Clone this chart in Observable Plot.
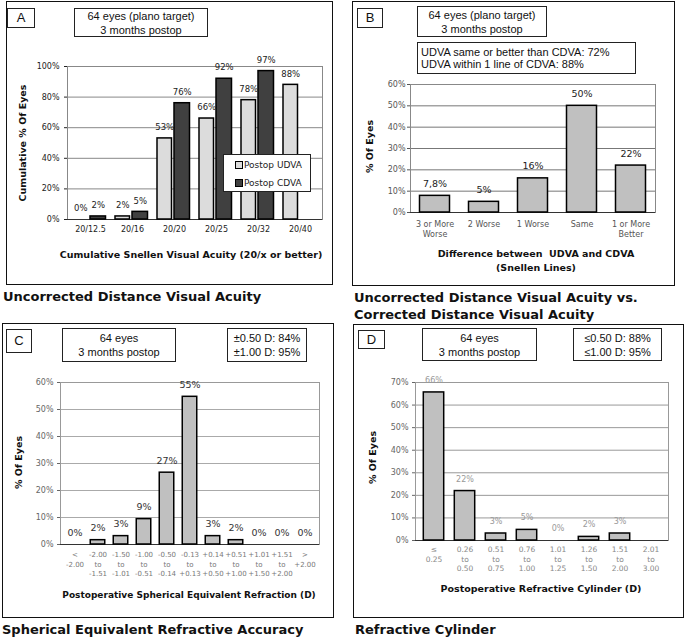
<!DOCTYPE html>
<html><head><meta charset="utf-8">
<script src="https://cdn.jsdelivr.net/npm/d3@7"></script>
<script src="https://cdn.jsdelivr.net/npm/@observablehq/plot@0.6"></script>
<style>
body{margin:0;background:#fff;}
#root{position:relative;width:685px;height:638px;overflow:hidden;font-family:"DejaVu Sans",sans-serif;background:#fff;}
.panel{position:absolute;border:1.5px solid #111;box-sizing:border-box;}
.chart{position:absolute;}
.box{position:absolute;border:1.2px solid #222;background:#fff;font-family:"Liberation Sans",Arial,sans-serif;font-size:11px;line-height:14px;color:#111;box-sizing:border-box;display:flex;flex-direction:column;justify-content:center;}
.title{position:absolute;font-family:"DejaVu Sans",sans-serif;font-weight:bold;font-size:13px;line-height:17px;color:#111;white-space:nowrap;}
.legend{position:absolute;border:1.2px solid #222;background:#fff;box-sizing:border-box;font-family:"DejaVu Sans",sans-serif;font-size:9px;color:#222;}
.legend .item{position:absolute;left:11px;display:flex;align-items:center;white-space:nowrap;}
.legend .sw{width:6px;height:6px;border:1px solid #000;margin-right:1px;}
</style>
</head><body><div id="root"></div>
<script>
// ---- Data ----
const snellenCats = ["20/12.5","20/16","20/20","20/25","20/32","20/40"];
const udvaCum = [0, 2, 53, 66, 78, 88];
const cdvaCum = [2, 5, 76, 92, 97, null];
const aTicks = [0, 20, 40, 60, 80, 100];

const diffCats = ["3 or More\nWorse", "2 Worse", "1 Worse", "Same", "1 or More\nBetter"];
const diffVals = [7.8, 5, 16, 50, 22];
const diffLabels = ["7,8%", "5%", "16%", "50%", "22%"];
const bTicks = [0, 10, 20, 30, 40, 50, 60];

const seCats = ["<\n-2.00", "-2.00\nto\n-1.51", "-1.50\nto\n-1.01", "-1.00\nto\n-0.51", "-0.50\nto\n-0.14", "-0.13\nto\n+0.13", "+0.14\nto\n+0.50", "+0.51\nto\n+1.00", "+1.01\nto\n+1.50", "+1.51\nto\n+2.00", ">\n+2.00"];
const seVals = [0, 1.6, 3.1, 9.4, 26.6, 54.7, 3.1, 1.6, 0, 0, 0];
const seLabels = ["0%", "2%", "3%", "9%", "27%", "55%", "3%", "2%", "0%", "0%", "0%"];
const cTicks = [0, 10, 20, 30, 40, 50, 60];

const cylCats = ["≤\n0.25", "0.26\nto\n0.50", "0.51\nto\n0.75", "0.76\nto\n1.00", "1.01\nto\n1.25", "1.26\nto\n1.50", "1.51\nto\n2.00", "2.01\nto\n3.00"];
const cylVals = [65.6, 21.9, 3.1, 4.7, 0, 1.6, 3.1, 0];
const cylLabels = ["66%", "22%", "3%", "5%", "0%", "2%", "3%", ""];
const dTicks = [0, 10, 20, 30, 40, 50, 60, 70];

const root = document.getElementById("root");
const pct = d => d + "%";

function place(el, left, top) {
  el.classList.add("chart");
  el.style.left = left + "px";
  el.style.top = top + "px";
  root.appendChild(el);
}
function addDiv(cls, left, top, w, h, html, extra) {
  const d = document.createElement("div");
  d.className = cls;
  d.style.left = left + "px"; d.style.top = top + "px";
  if (w != null) d.style.width = w + "px";
  if (h != null) d.style.height = h + "px";
  d.innerHTML = html;
  if (extra) Object.assign(d.style, extra);
  root.appendChild(d);
  return d;
}
const baseStyle = (color, size) => ({fontFamily: "DejaVu Sans, sans-serif", fontSize: size, color, background: "transparent", overflow: "visible"});

// ---- Panel borders ----
addDiv("panel", 6, 1, 327, 284, "");
addDiv("panel", 352, 1, 323, 285, "");
addDiv("panel", 2, 323, 332, 295, "");
addDiv("panel", 353, 324, 331, 294, "");

// ---- Panel A ----
const plotA = Plot.plot({
  width: 327, height: 284,
  marginLeft: 61, marginRight: 11, marginTop: 65, marginBottom: 66,
  style: baseStyle("#222", "8px"),
  x: {domain: snellenCats, padding: 0, axis: null},
  y: {domain: [0, 100], ticks: aTicks, tickFormat: pct, tickSize: 3, tickPadding: 5, label: null},
  marks: [
    Plot.ruleY(aTicks.slice(1, -1), {stroke: "#888", strokeWidth: 1}),
    Plot.frame({stroke: "#888"}),
    Plot.ruleY([0], {stroke: "#333"}),
    Plot.barY(udvaCum, {x: snellenCats, y: d => d, fill: "#dcdcdc", stroke: "#000", strokeWidth: 1.5, insetLeft: 4, insetRight: 23.5}),
    Plot.barY(cdvaCum, {x: snellenCats, y: d => d, fill: "#404040", stroke: "#000", strokeWidth: 1.5, insetLeft: 21, insetRight: 5.5}),
    Plot.text(udvaCum, {x: snellenCats, y: d => d, text: d => d == null ? null : pct(d), dx: -9.75, dy: -11, fontSize: 8.5, fill: "#222"}),
    Plot.text(cdvaCum, {x: snellenCats, y: d => d, text: d => d == null ? null : pct(d), dx: 7.75, dy: -11, fontSize: 8.5, fill: "#222"}),
    Plot.text(snellenCats, {x: d => d, text: d => d, frameAnchor: "bottom", lineAnchor: "top", dy: 7, fontSize: 8, fill: "#222"}),
    Plot.text(["Cumulative Snellen Visual Acuity (20/x or better)"], {frameAnchor: "bottom", lineAnchor: "middle", dy: 35, dx: -4, fontSize: 9.5, fontWeight: "bold", fill: "#111"}),
    Plot.text(["Cumulative % Of Eyes"], {frameAnchor: "left", rotate: -90, textAnchor: "middle", lineAnchor: "middle", dx: -45, fontSize: 9.5, fontWeight: "bold", fill: "#111"})
  ]
});
place(plotA, 6, 1);

// ---- Panel B ----
const plotB = Plot.plot({
  width: 323, height: 285,
  marginLeft: 58, marginRight: 20, marginTop: 83, marginBottom: 74,
  style: baseStyle("#555", "8px"),
  x: {domain: diffCats, padding: 0, axis: null},
  y: {domain: [0, 60], ticks: bTicks, tickFormat: pct, tickSize: 3, tickPadding: 2, label: null},
  marks: [
    Plot.ruleY(bTicks.slice(1, -1), {stroke: "#777"}),
    Plot.frame({stroke: "#888"}),
    Plot.ruleY([0], {stroke: "#333"}),
    Plot.barY(diffVals, {x: diffCats, y: d => d, fill: "#c0c0c0", stroke: "#000", strokeWidth: 1.5, insetLeft: 9.5, insetRight: 9.5}),
    Plot.text(diffVals, {x: diffCats, y: d => d, text: diffLabels, dy: -12, fontSize: 9.5, fill: "#222"}),
    Plot.text(diffCats, {x: d => d, text: d => d, frameAnchor: "bottom", lineAnchor: "top", dy: 7, fontSize: 8, lineHeight: 1.25, fill: "#555"}),
    Plot.text(["Difference between  UDVA and CDVA\n(Snellen Lines)"], {frameAnchor: "bottom", lineAnchor: "top", dy: 35, dx: 3, fontSize: 9.5, lineHeight: 1.45, fontWeight: "bold", fill: "#111"}),
    Plot.text(["% Of Eyes"], {frameAnchor: "left", rotate: -90, textAnchor: "middle", lineAnchor: "middle", dx: -41, dy: -2, fontSize: 9.5, fontWeight: "bold", fill: "#111"})
  ]
});
place(plotB, 352, 1);

// ---- Panel C ----
const plotC = Plot.plot({
  width: 332, height: 295,
  marginLeft: 58, marginRight: 15, marginTop: 59, marginBottom: 74,
  style: baseStyle("#666", "8px"),
  x: {domain: seCats, padding: 0, axis: null},
  y: {domain: [0, 60], ticks: cTicks, tickFormat: pct, tickSize: 3, tickPadding: 4, label: null},
  marks: [
    Plot.ruleY(cTicks.slice(1, -1), {stroke: "#aaa"}),
    Plot.frame({stroke: "#999"}),
    Plot.ruleY([0], {stroke: "#333"}),
    Plot.barY(seVals, {x: seCats, y: d => d, fill: "#c0c0c0", stroke: "#000", strokeWidth: 1.5, insetLeft: 4.25, insetRight: 4.25}),
    Plot.text(seVals, {x: seCats, y: d => d, text: seLabels, dy: -12, fontSize: 9.5, fill: "#333"}),
    Plot.text(seCats, {x: d => d, text: d => d, frameAnchor: "bottom", lineAnchor: "top", dy: 6.5, fontSize: 7, lineHeight: 1.3, fill: "#777"}),
    Plot.text(["Postoperative Spherical Equivalent Refraction (D)"], {frameAnchor: "bottom", lineAnchor: "middle", dy: 51, dx: -1, fontSize: 9, fontWeight: "bold", fill: "#111"}),
    Plot.text(["% Of Eyes"], {frameAnchor: "left", rotate: -90, textAnchor: "middle", lineAnchor: "middle", dx: -42, dy: -1, fontSize: 9.5, fontWeight: "bold", fill: "#111"})
  ]
});
place(plotC, 2, 323);

// ---- Panel D ----
const plotD = Plot.plot({
  width: 331, height: 294,
  marginLeft: 62, marginRight: 16, marginTop: 58, marginBottom: 78,
  style: baseStyle("#666", "8px"),
  x: {domain: cylCats, padding: 0, axis: null},
  y: {domain: [0, 70], ticks: dTicks, tickFormat: pct, tickSize: 3, tickPadding: 4, label: null},
  marks: [
    Plot.ruleY(dTicks.slice(1, -1), {stroke: "#999"}),
    Plot.frame({stroke: "#999"}),
    Plot.ruleY([0], {stroke: "#333"}),
    Plot.barY(cylVals, {x: cylCats, y: d => d, fill: "#c0c0c0", stroke: "#000", strokeWidth: 1.5, insetLeft: 5.3, insetRight: 5.3}),
    Plot.text(cylVals, {x: cylCats, y: d => d, text: cylLabels, dy: -12, fontSize: 8, fill: "#999"}),
    Plot.text(cylCats, {x: d => d, text: d => d, frameAnchor: "bottom", lineAnchor: "top", dy: 5, fontSize: 7.5, lineHeight: 1.27, fill: "#888"}),
    Plot.text(["Postoperative Refractive Cylinder (D)"], {frameAnchor: "bottom", lineAnchor: "middle", dy: 48, dx: -1, fontSize: 9.5, fontWeight: "bold", fill: "#111"}),
    Plot.text(["% Of Eyes"], {frameAnchor: "left", rotate: -90, textAnchor: "middle", lineAnchor: "middle", dx: -43, dy: -4, fontSize: 9.5, fontWeight: "bold", fill: "#111"})
  ]
});
place(plotD, 353, 324);

// ---- Text boxes ----
const center = {textAlign: "center"};
addDiv("box", 7, 8, 28, 20, "A", {fontSize: "13px", textAlign: "center"});
addDiv("box", 74, 8, 134, 29, "64 eyes (plano target)<br>3 months postop", center);
addDiv("box", 357, 8, 26, 20, "B", {fontSize: "13px", textAlign: "center"});
addDiv("box", 417, 6, 130, 31, "64 eyes (plano target)<br>3 months postop", center);
addDiv("box", 417, 42, 219, 32, "UDVA same or better than CDVA: 72%<br>UDVA within 1 line of CDVA: 88%", {paddingLeft: "3px", lineHeight: "12px"});
addDiv("box", 6, 329, 26, 24, "C", {fontSize: "13px", textAlign: "center"});
addDiv("box", 62, 328, 114, 34, "64 eyes<br>3 months postop", center);
addDiv("box", 227, 328, 80, 34, "±0.50 D: 84%<br>±1.00 D: 95%", center);
addDiv("box", 358, 330, 27, 19, "D", {fontSize: "13px", textAlign: "center"});
addDiv("box", 422, 328, 115, 33, "64 eyes<br>3 months postop", center);
addDiv("box", 573, 328, 89, 33, "≤0.50 D: 88%<br>≤1.00 D: 95%", center);

// ---- Legend A ----
const lg = addDiv("legend", 223, 154, 88, 38, "");
const legendItems = [["Postop UDVA", "#dcdcdc"], ["Postop CDVA", "#404040"]];
legendItems.forEach(([name, col], i) => {
  const it = document.createElement("div");
  it.className = "item";
  it.style.top = (5 + i * 18) + "px";
  it.innerHTML = `<span class="sw" style="background:${col}"></span><span>${name}</span>`;
  lg.appendChild(it);
});

// ---- Section titles ----
addDiv("title", 3, 288, null, null, "Uncorrected Distance Visual Acuity");
addDiv("title", 354, 289, null, null, "Uncorrected Distance Visual Acuity vs.<br>Corrected Distance Visual Acuity");
addDiv("title", 2, 621, null, null, "Spherical Equivalent Refractive Accuracy");
addDiv("title", 355, 621, null, null, "Refractive Cylinder");
</script></body></html>
